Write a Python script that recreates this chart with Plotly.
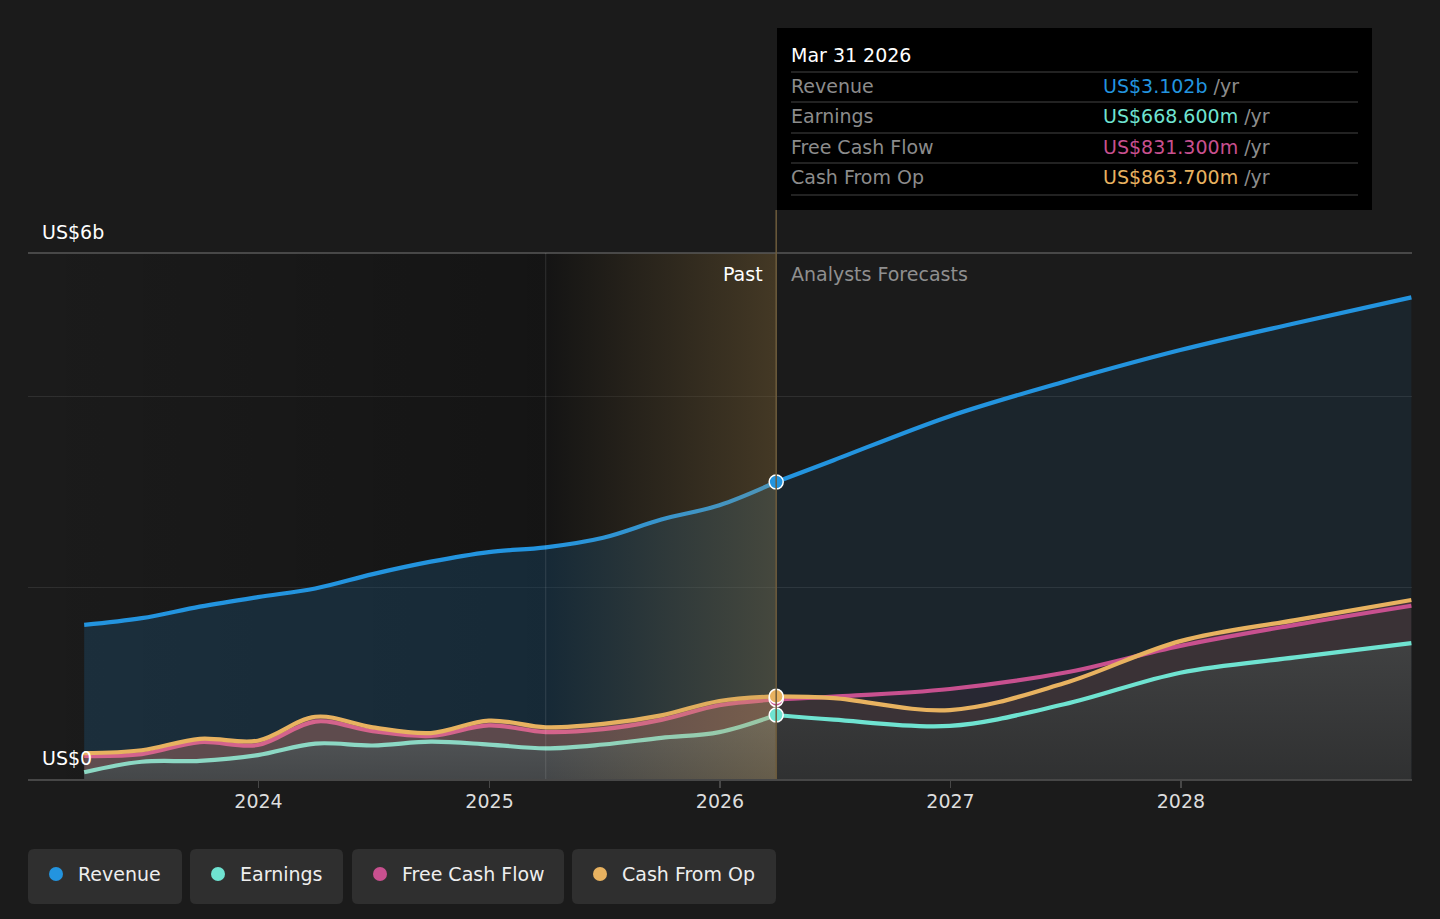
import plotly.graph_objects as go

# ---------------- data ----------------
past_dates = ['2023-03-31', '2023-06-30', '2023-09-30', '2023-12-31', '2024-03-31', '2024-06-30',
              '2024-09-30', '2024-12-31', '2025-03-31', '2025-06-30', '2025-09-30', '2025-12-31',
              '2026-03-31']
revenue_past = [1.61, 1.68, 1.80, 1.90, 1.99, 2.14, 2.27, 2.37, 2.42, 2.52, 2.71, 2.86, 3.102]
earnings_past = [0.07, 0.18, 0.19, 0.25, 0.37, 0.35, 0.39, 0.36, 0.32, 0.36, 0.43, 0.49, 0.6686]
fcf_past = [0.24, 0.26, 0.385, 0.355, 0.60, 0.50, 0.45, 0.56, 0.49, 0.52, 0.617, 0.77, 0.8313]
cfo_past = [0.27, 0.30, 0.42, 0.40, 0.65, 0.54, 0.48, 0.61, 0.54, 0.575, 0.665, 0.815, 0.8637]

fc_dates = ['2026-03-31', '2026-06-30', '2026-12-31', '2027-06-30', '2027-12-31', '2028-06-30', '2028-12-31']
revenue_fc = [3.102, 3.33, 3.79, 4.15, 4.48, 4.76, 5.03]
earnings_fc = [0.6686, 0.62, 0.555, 0.78, 1.11, 1.27, 1.42]
fcf_fc = [0.8313, 0.86, 0.94, 1.11, 1.39, 1.61, 1.81]
cfo_fc = [0.8637, 0.845, 0.72, 1.00, 1.44, 1.66, 1.87]

year_ticks = ['2024-01-01', '2025-01-01', '2026-01-01', '2027-01-01', '2028-01-01']
year_labels = ['2024', '2025', '2026', '2027', '2028']
x_range = ['2023-01-01', '2029-01-01']
y_max = 5.494
highlight_start = '2025-03-31'
today = '2026-03-31'

tooltip_title = 'Mar 31 2026'
tooltip_names = ['Revenue', 'Earnings', 'Free Cash Flow', 'Cash From Op']
tooltip_values = ['US$3.102b', 'US$668.600m', 'US$831.300m', 'US$863.700m']
series_names = ['Revenue', 'Earnings', 'Free Cash Flow', 'Cash From Op']

# ---------------- style ----------------
BG = '#1b1b1b'
C_REV = '#2394df'
C_EARN = '#6fe3d1'
C_FCF = '#c8508f'
C_CFO = '#e8b260'
C_EARN_PAST = '#8cd8c4'
C_FCF_PAST = '#d4638c'
FONT = 'DejaVu Sans'
W, H = 1440, 919
L, R, T, B = 28, 1412, 253, 779
TX = -2  # text x offset for annotation padding


def px(x):
    return (x - L) / (R - L)


def py(y):
    return (B - y) / (B - T)


fig = go.Figure()

# darker past background (gradient)
fig.add_trace(go.Scatter(x=[x_range[0], highlight_start], y=[y_max, y_max], mode='lines',
                         line=dict(width=0), fill='tozeroy',
                         fillgradient=dict(type='horizontal',
                                           colorscale=[[0, 'rgba(0,0,0,0)'], [1, 'rgba(0,0,0,0.25)']]),
                         hoverinfo='skip', showlegend=False))
fig.add_trace(go.Scatter(x=[highlight_start, today], y=[y_max, y_max], mode='lines',
                         line=dict(width=0), fill='tozeroy', fillcolor='rgba(0,0,0,0.25)',
                         hoverinfo='skip', showlegend=False))

# revenue fills
fig.add_trace(go.Scatter(x=past_dates, y=revenue_past, mode='lines', line=dict(width=0, shape='spline'),
                         fill='tozeroy', fillcolor='rgba(35,148,223,0.17)', hoverinfo='skip', showlegend=False))
fig.add_trace(go.Scatter(x=fc_dates, y=revenue_fc, mode='lines', line=dict(width=0, shape='spline'),
                         fill='tozeroy', fillcolor='rgba(35,148,223,0.09)', hoverinfo='skip', showlegend=False))

# past lower fills
fig.add_trace(go.Scatter(x=past_dates, y=earnings_past, mode='lines', line=dict(width=0, shape='spline'),
                         fill='tozeroy',
                         fillgradient=dict(type='vertical',
                                           colorscale=[[0, 'rgba(76,76,76,0.85)'], [1, 'rgba(98,98,98,0.85)']]),
                         hoverinfo='skip', showlegend=False))
fig.add_trace(go.Scatter(x=past_dates, y=cfo_past, mode='lines', line=dict(width=0, shape='spline'),
                         fill='tonexty', fillcolor='rgba(215,130,115,0.36)', hoverinfo='skip', showlegend=False))
fig.add_trace(go.Scatter(x=past_dates, y=fcf_past, mode='lines', line=dict(width=0, shape='spline'),
                         fill='tonexty', fillcolor='rgba(200,80,140,0.08)', hoverinfo='skip', showlegend=False))

# forecast lower fills
fig.add_trace(go.Scatter(x=fc_dates, y=earnings_fc, mode='lines', line=dict(width=0, shape='spline'),
                         fill='tozeroy',
                         fillgradient=dict(type='vertical',
                                           colorscale=[[0, 'rgba(50,50,50,0.9)'], [1, 'rgba(68,68,68,0.9)']]),
                         hoverinfo='skip', showlegend=False))
fig.add_trace(go.Scatter(x=fc_dates, y=cfo_fc, mode='lines', line=dict(width=0, shape='spline'),
                         fill='tonexty', fillcolor='rgba(170,100,90,0.22)', hoverinfo='skip', showlegend=False))
fig.add_trace(go.Scatter(x=fc_dates, y=fcf_fc, mode='lines', line=dict(width=0, shape='spline'),
                         fill='tonexty', fillcolor='rgba(200,80,140,0.08)', hoverinfo='skip', showlegend=False))


# lines
def line(x, y, color):
    fig.add_trace(go.Scatter(x=x, y=y, mode='lines', line=dict(color=color, width=4.2, shape='spline'),
                             hoverinfo='skip', showlegend=False))


line(past_dates, revenue_past, C_REV)
line(fc_dates, revenue_fc, C_REV)
line(past_dates, earnings_past, C_EARN_PAST)
line(fc_dates, earnings_fc, C_EARN)
line(past_dates, fcf_past, C_FCF_PAST)
line(fc_dates, fcf_fc, C_FCF)
line(past_dates, cfo_past, C_CFO)
line(fc_dates, cfo_fc, C_CFO)

# golden highlight of last year of the past
fig.add_trace(go.Scatter(x=[highlight_start, today], y=[y_max, y_max], mode='lines',
                         line=dict(width=0), fill='tozeroy',
                         fillgradient=dict(type='horizontal',
                                           colorscale=[[0, 'rgba(190,150,80,0)'], [1, 'rgba(190,150,80,0.28)']]),
                         hoverinfo='skip', showlegend=False))

# markers at the current date
fig.add_trace(go.Scatter(x=[past_dates[-1]] * 4,
                         y=[revenue_past[-1], earnings_past[-1], fcf_past[-1], cfo_past[-1]],
                         mode='markers',
                         marker=dict(size=14, color=[C_REV, C_EARN, C_FCF, C_CFO],
                                     line=dict(color='white', width=1.5)),
                         hoverinfo='skip', showlegend=False))

shapes = []
annotations = []

# top line and vertical guides
shapes.append(dict(type='line', xref='paper', yref='paper', x0=0, x1=1, y0=1, y1=1,
                   line=dict(color='#595959', width=1.5)))
shapes.append(dict(type='line', xref='x', yref='paper', x0=highlight_start, x1=highlight_start, y0=0, y1=1,
                   line=dict(color='rgba(255,255,255,0.12)', width=1)))
shapes.append(dict(type='line', xref='x', yref='paper', x0=today, x1=today, y0=0, y1=py(210),
                   line=dict(color='#6e5c3c', width=1.5)))

# tooltip box
shapes.append(dict(type='rect', xref='paper', yref='paper', x0=px(777), x1=px(1372), y0=py(210), y1=py(28),
                   fillcolor='#000000', line=dict(width=0)))
for sy in [72, 102, 133, 163, 195]:
    shapes.append(dict(type='line', xref='paper', yref='paper', x0=px(791), x1=px(1358), y0=py(sy), y1=py(sy),
                       line=dict(color='#444444', width=1)))
annotations.append(dict(xref='paper', yref='paper', x=px(791 + TX), y=py(55), text=tooltip_title,
                        showarrow=False, xanchor='left', yanchor='middle',
                        font=dict(family=FONT, size=19, color='#ffffff')))
row_y = [86, 116, 147, 177]
val_colors = [C_REV, C_EARN, C_FCF, C_CFO]
for name, val, col, ry in zip(tooltip_names, tooltip_values, val_colors, row_y):
    annotations.append(dict(xref='paper', yref='paper', x=px(791 + TX), y=py(ry), text=name, showarrow=False,
                            xanchor='left', yanchor='middle', font=dict(family=FONT, size=19, color='#8c8c8c')))
    annotations.append(dict(xref='paper', yref='paper', x=px(1103 + TX), y=py(ry),
                            text=f'<span style="color:{col}">{val}</span> /yr', showarrow=False,
                            xanchor='left', yanchor='middle', font=dict(family=FONT, size=19, color='#8c8c8c')))

# axis value labels
annotations.append(dict(xref='paper', yref='paper', x=px(42 + TX), y=py(232), text='US$6b', showarrow=False,
                        xanchor='left', yanchor='middle', font=dict(family=FONT, size=19, color='#ffffff')))
annotations.append(dict(xref='paper', yref='paper', x=px(42 + TX), y=py(758), text='US$0', showarrow=False,
                        xanchor='left', yanchor='middle', font=dict(family=FONT, size=19, color='#ffffff')))
annotations.append(dict(xref='paper', yref='paper', x=px(763 - TX), y=py(274), text='Past', showarrow=False,
                        xanchor='right', yanchor='middle', font=dict(family=FONT, size=19, color='#ffffff')))
annotations.append(dict(xref='paper', yref='paper', x=px(791 + TX), y=py(274), text='Analysts Forecasts',
                        showarrow=False, xanchor='left', yanchor='middle',
                        font=dict(family=FONT, size=19, color='#8f8f8f')))


# custom legend
def rounded(x0, y0, x1, y1, r=6):
    return (f'M {px(x0 + r)},{py(y0)} L {px(x1 - r)},{py(y0)} Q {px(x1)},{py(y0)} {px(x1)},{py(y0 + r)} '
            f'L {px(x1)},{py(y1 - r)} Q {px(x1)},{py(y1)} {px(x1 - r)},{py(y1)} '
            f'L {px(x0 + r)},{py(y1)} Q {px(x0)},{py(y1)} {px(x0)},{py(y1 - r)} '
            f'L {px(x0)},{py(y0 + r)} Q {px(x0)},{py(y0)} {px(x0 + r)},{py(y0)} Z')


legend_boxes = [(28, 182), (190, 343), (352, 564), (572, 776)]
legend_colors = [C_REV, C_EARN, C_FCF, C_CFO]
for (bx0, bx1), name, col in zip(legend_boxes, series_names, legend_colors):
    shapes.append(dict(type='path', xref='paper', yref='paper', path=rounded(bx0, 849, bx1, 904),
                       fillcolor='#2f2f2f', line=dict(width=0)))
    cx = bx0 + 28
    shapes.append(dict(type='circle', xref='paper', yref='paper', x0=px(cx - 7), x1=px(cx + 7),
                       y0=py(874 + 7), y1=py(874 - 7), fillcolor=col, line=dict(width=0)))
    annotations.append(dict(xref='paper', yref='paper', x=px(bx0 + 50 + TX), y=py(874), text=name,
                            showarrow=False, xanchor='left', yanchor='middle',
                            font=dict(family=FONT, size=19, color='#eeeeee')))

fig.update_layout(
    width=W, height=H,
    margin=dict(l=L, r=W - R, t=T, b=H - B, pad=0),
    paper_bgcolor=BG, plot_bgcolor=BG,
    hovermode=False,
    showlegend=False,
    shapes=shapes,
    annotations=annotations,
    xaxis=dict(type='date', range=x_range, tickvals=year_ticks, ticktext=year_labels,
               showgrid=False, zeroline=False, showline=True, linecolor='#474747', linewidth=2,
               ticks='outside', ticklen=7, tickcolor='#474747', tickwidth=1.5, ticklabelstandoff=-3,
               tickfont=dict(family=FONT, size=19, color='#dddddd'), fixedrange=True),
    yaxis=dict(range=[0, y_max], tickvals=[0, 2, 4], showticklabels=False, showgrid=True,
               gridcolor='#2f2f2f', gridwidth=1, zeroline=False, showline=False, fixedrange=True),
    font=dict(family=FONT),
)

fig.write_html('out.html', config={'displayModeBar': False, 'staticPlot': True},
               post_script="document.body.style.margin='0';document.body.style.overflow='hidden';")
